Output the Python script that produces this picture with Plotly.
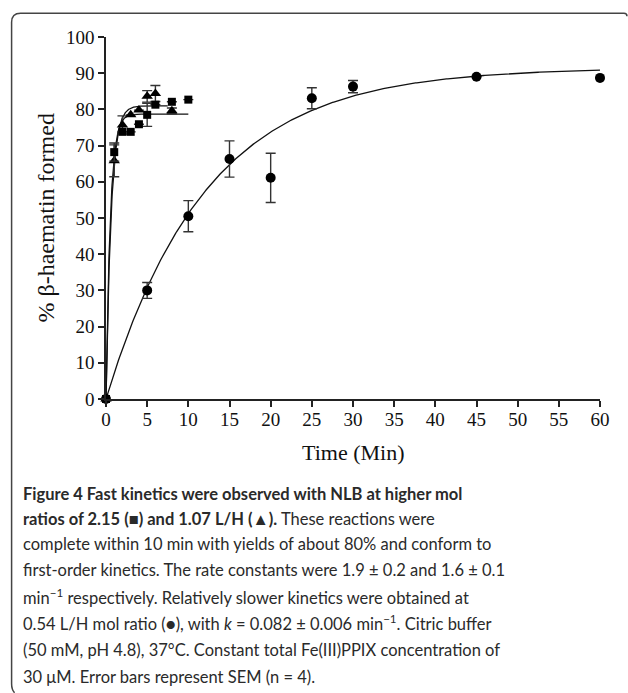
import numpy as np
import plotly.graph_objects as go

# ---- data ----
t_circle = [0, 5, 10, 15, 20, 25, 30, 45, 60]
y_circle = [0, 30.0, 50.5, 66.3, 61.1, 83.1, 86.3, 89.0, 88.7]
e_circle = [0, 2.2, 4.3, 5.0, 6.8, 2.9, 1.7, 0, 0]

t_square = [0, 1, 2, 3, 4, 5, 6, 8, 10]
y_square = [0, 68.2, 73.8, 73.8, 75.9, 78.5, 81.3, 82.1, 82.7]
e_square = [0, 2.5, 0, 0, 0, 3.2, 0, 0, 0]

t_tri = [0, 1, 2, 3, 4, 5, 6, 8]
y_tri = [0, 65.8, 75.7, 78.5, 79.8, 83.6, 84.4, 79.6]
e_tri = [0, 4.4, 2.5, 0, 0, 1.6, 2.2, 0.8]

# first-order fits  Y = Ymax (1 - exp(-k t))
fit_circle = dict(k=0.082, ymax=91.5, tmax=60)
fit_square = dict(k=1.9, ymax=78.7, tmax=10)
fit_tri = dict(k=1.6, ymax=81.0, tmax=7.5)

x_ticks = list(range(0, 61, 5))
y_ticks = list(range(0, 101, 10))

W, H = 628, 693
L, R, T, B = 105.5, 600.0, 36.7, 399.0


def px(x):
    return (x - L) / (R - L)


def py(y):
    return (B - y) / (B - T)


fig = go.Figure()

for f in (fit_circle, fit_square, fit_tri):
    tt = np.linspace(0, f["tmax"], 400)
    fig.add_trace(go.Scatter(x=tt, y=f["ymax"] * (1 - np.exp(-f["k"] * tt)),
                             mode="lines", line=dict(color="#111", width=1.3),
                             hoverinfo="skip", showlegend=False, cliponaxis=False))

err_style = dict(type="data", visible=True, color="#333", thickness=1.4, width=5)

fig.add_trace(go.Scatter(x=t_circle, y=y_circle, mode="markers",
                         marker=dict(symbol="circle", size=10, color="black"),
                         error_y=dict(array=e_circle, **err_style),
                         showlegend=False, cliponaxis=False))
fig.add_trace(go.Scatter(x=t_tri, y=y_tri, mode="markers",
                         marker=dict(symbol="triangle-up", size=10, color="black"),
                         error_y=dict(array=e_tri, **err_style),
                         showlegend=False, cliponaxis=False))
fig.add_trace(go.Scatter(x=t_square, y=y_square, mode="markers",
                         marker=dict(symbol="square", size=8, color="black"),
                         error_y=dict(array=e_square, **err_style),
                         showlegend=False, cliponaxis=False))

axis_common = dict(showgrid=False, zeroline=False, showline=True, linecolor="#222",
                   linewidth=1.5, ticks="outside", ticklen=6, tickwidth=1.5,
                   tickcolor="#222",
                   tickfont=dict(family="Liberation Serif", size=19, color="#111"))

fig.update_xaxes(range=[0, 60], tickvals=x_ticks, ticklabelstandoff=-4, **axis_common)
fig.update_yaxes(range=[0, 100], tickvals=y_ticks, **axis_common)

annotations = [
    dict(text="Time (Min)", x=0.5, y=py(453), xref="paper", yref="paper",
         showarrow=False, font=dict(family="Liberation Serif", size=22, color="#111"),
         xanchor="center", yanchor="middle"),
    dict(text="% β-haematin formed", x=px(45), y=0.5, xref="paper", yref="paper",
         showarrow=False, textangle=-90,
         font=dict(family="Liberation Serif", size=24, color="#111"),
         xanchor="center", yanchor="middle"),
]

caption = [
    "<b>Figure 4 Fast kinetics were observed with NLB at higher mol</b>",
    "<b>ratios of 2.15 (■) and 1.07 L/H (▲).</b> These reactions were",
    "complete within 10 min with yields of about 80% and conform to",
    "first-order kinetics. The rate constants were 1.9 ± 0.2 and 1.6 ± 0.1",
    "min<sup>−1</sup> respectively. Relatively slower kinetics were obtained at",
    "0.54 L/H mol ratio (●), with <i>k</i> = 0.082 ± 0.006 min<sup>−1</sup>. Citric buffer",
    "(50 mM, pH 4.8), 37°C. Constant total Fe(III)PPIX concentration of",
    "30 μM. Error bars represent SEM (n = 4).",
]
line_y = [494, 519, 544, 570, 597, 623, 650, 677]
for txt, yy in zip(caption, line_y):
    annotations.append(dict(text=txt, x=px(20), y=py(yy), xref="paper", yref="paper",
                            showarrow=False, xanchor="left", yanchor="middle",
                            align="left",
                            font=dict(family="Lato", size=16.5, color="#2a2a2a")))

# partial rounded frame (top and left edges visible in the reference)
x0, x1, y0, y1, r = 11, 627, 13, 693, 9
rx = r / (R - L)
ry = r / (B - T)
hx = 3 / (R - L)
hy = 3 / (B - T)
X0, X1, Y0, Y1 = px(x0), px(x1), py(y0), py(y1)
path = (f"M {X0 + hx},{Y1} Q {X0},{Y1 + hy} {X0},{Y1 + 3 * hy} "
        f"L {X0},{Y0 - ry} Q {X0},{Y0} {X0 + rx},{Y0} "
        f"L {X1 - hx},{Y0} Q {X1},{Y0} {X1},{Y0 - hy}")

fig.update_layout(
    width=W, height=H,
    margin=dict(l=L, r=W - R, t=T, b=H - B),
    plot_bgcolor="white", paper_bgcolor="white",
    annotations=annotations,
    shapes=[dict(type="path", path=path, xref="paper", yref="paper",
                 line=dict(color="#444", width=1.5), layer="below")],
)

fig.write_html("out.html", config={"displayModeBar": False},
               post_script="document.body.style.margin='0';document.body.style.overflow='hidden';")
